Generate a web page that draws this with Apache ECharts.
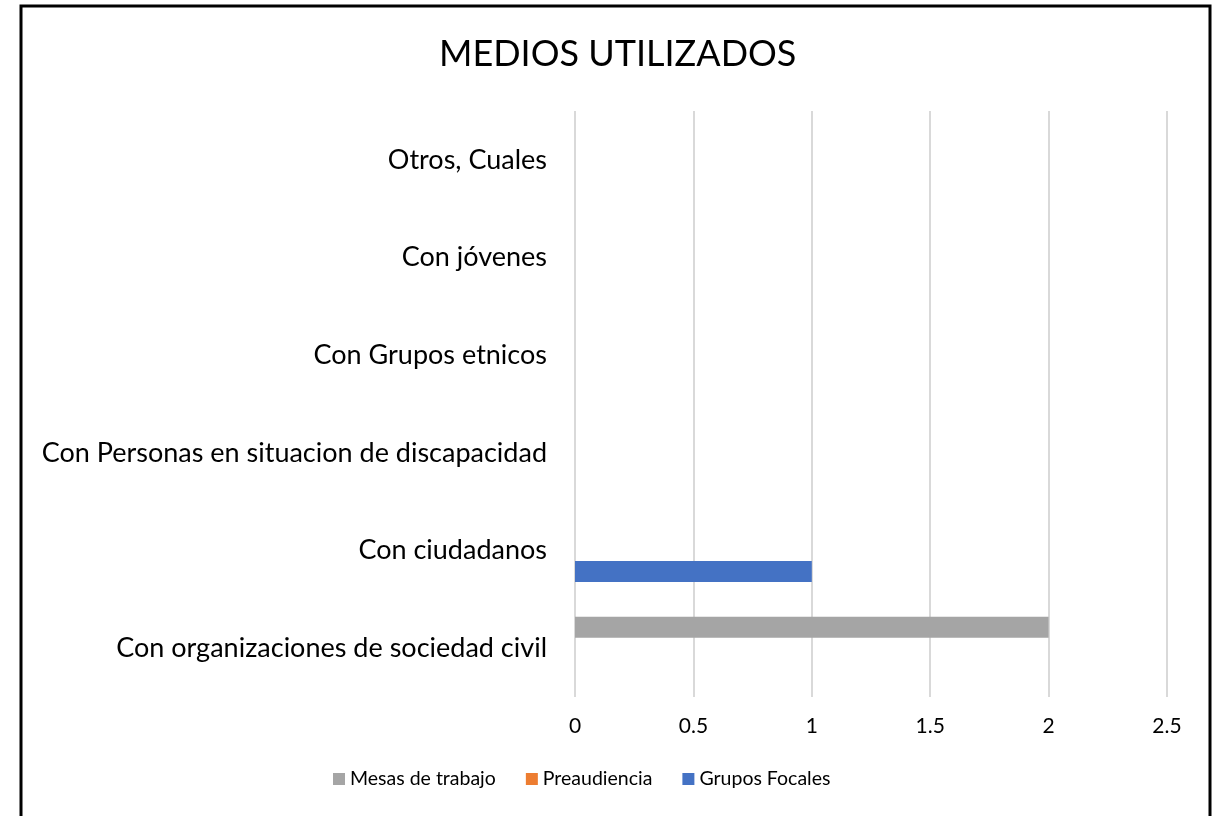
<!DOCTYPE html>
<html><head><meta charset="utf-8">
<script src="https://cdn.jsdelivr.net/npm/echarts@6/dist/echarts.min.js"></script>
<style>html,body{margin:0;padding:0;background:#fff}#c{width:1222px;height:816px}</style>
</head><body><div id="c"></div>
<script>
const title = 'MEDIOS UTILIZADOS';
const categories = ['Con organizaciones de sociedad civil', 'Con ciudadanos', 'Con Personas en situacion de discapacidad', 'Con Grupos etnicos', 'Con jóvenes', 'Otros, Cuales'];
const seriesNames = ['Mesas de trabajo', 'Preaudiencia', 'Grupos Focales'];
const mesas = [2, 0, 0, 0, 0, 0];
const preaudiencia = [0, 0, 0, 0, 0, 0];
const gruposFocales = [0, 1, 0, 0, 0, 0];
const colors = ['#a5a5a5', '#ed7d31', '#4472c4'];
const font = 'Lato, "Open Sans", sans-serif';

const chart = echarts.init(document.getElementById('c'));
const values = [mesas, preaudiencia, gruposFocales];
chart.setOption({
  animation: false,
  title: { text: title, left: 434, top: 31, textStyle: { fontFamily: font, fontSize: 36, fontWeight: 'normal', color: '#000' } },
  graphic: [{ type: 'rect', shape: { x: 21, y: 6, width: 1189, height: 830 }, style: { fill: 'none', stroke: '#000', lineWidth: 3 }, silent: true }],
  legend: {
    data: seriesNames, bottom: 22, left: 328, itemWidth: 12, itemHeight: 12, itemGap: 30, icon: 'rect',
    textStyle: { fontFamily: font, fontSize: 19.5, color: '#000' }
  },
  grid: { left: 575, right: 55, top: 111, bottom: 119, containLabel: false },
  xAxis: {
    type: 'value', min: 0, max: 2.5, interval: 0.5,
    axisLine: { show: false }, axisTick: { show: false },
    splitLine: { lineStyle: { color: '#d9d9d9', width: 2 } },
    axisLabel: { fontFamily: font, fontSize: 21, color: '#000', margin: 19 }
  },
  yAxis: {
    type: 'category', data: categories,
    axisLine: { show: false }, axisTick: { show: false },
    axisLabel: { fontFamily: font, fontSize: 27, color: '#000', margin: 28 }
  },
  series: seriesNames.map((n, i) => ({
    name: n, type: 'bar', data: values[i], barWidth: 21, barGap: '0%',
    itemStyle: { color: colors[i] }
  }))
});
</script></body></html>
